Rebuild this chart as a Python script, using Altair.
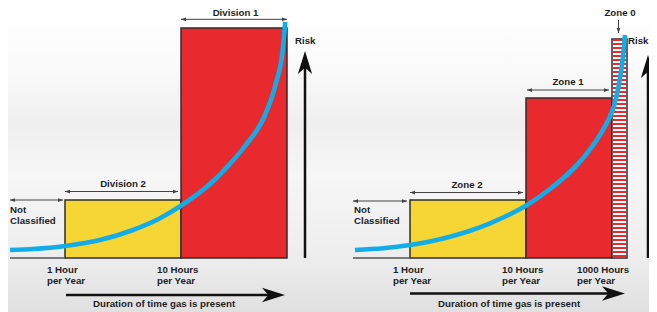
import altair as alt
import pandas as pd

W, H = 641, 304
X_DOMAIN = [8, 649]      # horizontal diagram units
Y_DOMAIN = [-54, 250]    # risk level above the baseline

# ---- classified areas (bars) ----
area_names = ["Division 2", "Division 1", "Zone 2", "Zone 1", "Zone 0"]
area_start = [65, 181, 410, 526, 612]
area_end = [181, 287, 526, 612, 627]
area_risk = [58, 230, 58, 160, 219]
area_fill = ["yellow", "red", "yellow", "red", "striped"]

# ---- not classified baseline segments ----
nc_start = [10, 353]
nc_end = [65, 410]

# ---- blue risk curves ----
curve_left_x = [10, 33, 65, 100, 133, 160, 182, 210, 228, 245, 265, 276, 282.7, 284.3, 285.3]
curve_left_h = [8, 9, 12, 18, 28, 39.7, 53, 74, 92, 112, 143, 175, 208, 225, 236]
curve_right_x = [355, 383, 410, 450, 490, 527, 550, 570, 584, 596, 606.7, 614, 618.3, 623.3, 625]
curve_right_h = [8, 9.7, 13, 21.3, 34.7, 53, 69, 86, 101, 117, 135, 152, 170, 204, 223]

# ---- extent arrows (double headed) ----
span_start = [10, 65, 181, 353, 410, 527]
span_end = [63, 178, 287, 407, 523, 609]
span_level = [58, 66.5, 238.7, 57, 65.5, 168]

span_labels = ["Division 2", "Division 1", "Zone 2", "Zone 1", "Zone 0"]
span_label_x = [123, 235.5, 467, 568, 620]
span_label_h = [71, 241.8, 70, 173, 241.8]

# Zone 0 pointer
ptr_x = [618.5]
ptr_from = [238]
ptr_to = [225]

# ---- other labels ----
nc_label = ["Not\nClassified", "Not\nClassified"]
nc_label_x = [10, 354]
nc_label_h = [45, 45]

tick_labels = ["1 Hour\nper Year", "10 Hours\nper Year",
               "1 Hour\nper Year", "10 Hours\nper Year", "1000 Hours\nper Year"]
tick_x = [47, 157, 393, 502, 577]
tick_h = [-14.7] * 5

risk_x = [305, 648]
risk_tip = [207, 203]
risk_label_x = [295, 628]
risk_label_h = [214, 214]

dur_start = [66, 410]
dur_end = [285, 625]
dur_h = [-37, -35.5]
dur_label = ["Duration of time gas is present"] * 2
dur_label_x = [93, 438]
dur_label_h = [-49, -49]

FONT = "Liberation Sans"
TXT = "#1e1e1e"
xs = alt.Scale(domain=X_DOMAIN, nice=False, zero=False)
ys = alt.Scale(domain=Y_DOMAIN, nice=False, zero=False)


def X(f):
    return alt.X(f, type="quantitative", scale=xs, axis=None)


def Y(f):
    return alt.Y(f, type="quantitative", scale=ys, axis=None)


BIG_HEAD = "M0,0 L0.62,2 L0,1.45 L-0.62,2 Z"
SMALL_HEAD = "M0,0 L0.75,2 L-0.75,2 Z"

# background haze
bg = alt.Chart(pd.DataFrame({"a": [0]})).mark_rect(
    color=alt.LinearGradient(
        gradient="linear", x1=0, x2=0, y1=0, y2=1,
        stops=[alt.GradientStop(color="#ffffff", offset=0),
               alt.GradientStop(color="#fafafa", offset=0.2),
               alt.GradientStop(color="#efefef", offset=0.38),
               alt.GradientStop(color="#f6f6f6", offset=0.55),
               alt.GradientStop(color="#eeeeee", offset=0.8),
               alt.GradientStop(color="#e0e0e0", offset=1)])
).encode(x=alt.value(0), x2=alt.value(W), y=alt.value(0), y2=alt.value(H))

areas = pd.DataFrame({"name": area_names, "x0": area_start, "x1": area_end,
                      "risk": area_risk, "fill": area_fill, "base": 0})
bars = alt.Chart(areas).mark_rect(stroke="#2e2e2e", strokeWidth=1.5).encode(
    x=X("x0"), x2="x1", y=Y("base"), y2="risk",
    fill=alt.Fill("fill:N", scale=alt.Scale(domain=["yellow", "red", "striped"],
                                            range=["#F6D634", "#E8292E", "#FFFFFF"]),
                  legend=None))

stripe_df = areas[areas["fill"] == "striped"].copy()
stripe_df["xc"] = (stripe_df["x0"] + stripe_df["x1"]) / 2
stripe_df["lo"] = stripe_df["base"] + 1
stripe_df["hi"] = stripe_df["risk"] - 1
stripes = alt.Chart(stripe_df).mark_rule(
    color="#E8292E", strokeWidth=13.5, strokeDash=[2, 2], strokeCap="butt").encode(
    x=X("xc"), y=Y("lo"), y2="hi")

nc = pd.DataFrame({"x0": nc_start, "x1": nc_end, "y": 0})
nc_rules = alt.Chart(nc).mark_rule(color="#555555", strokeWidth=1.5).encode(
    x=X("x0"), x2="x1", y=Y("y"))

curves = pd.concat([
    pd.DataFrame({"x": curve_left_x, "h": curve_left_h, "panel": "left"}),
    pd.DataFrame({"x": curve_right_x, "h": curve_right_h, "panel": "right"})])
curve = alt.Chart(curves).mark_line(
    color="#12ADE8", strokeWidth=4.6, interpolate="monotone", strokeCap="butt").encode(
    x=X("x"), y=Y("h"), detail="panel:N", order="x:Q")

spans = pd.DataFrame({"x0": span_start, "x1": span_end, "y": span_level})
span_rules = alt.Chart(spans).mark_rule(color="#444444", strokeWidth=1).encode(
    x=X("x0"), x2="x1", y=Y("y"))
heads = pd.concat([
    pd.DataFrame({"x": span_start, "y": span_level, "ang": 270}),
    pd.DataFrame({"x": span_end, "y": span_level, "ang": 90}),
    pd.DataFrame({"x": ptr_x, "y": ptr_to, "ang": 180})])
span_heads = alt.Chart(heads).mark_point(
    shape=SMALL_HEAD, size=25, filled=True, opacity=1, color="#444444", strokeWidth=0).encode(
    x=X("x"), y=Y("y"), angle=alt.Angle("ang:Q", scale=None))
ptr = alt.Chart(pd.DataFrame({"x": ptr_x, "y0": ptr_from, "y1": ptr_to})).mark_rule(
    color="#444444", strokeWidth=1).encode(x=X("x"), y=Y("y0"), y2="y1")

risk = pd.DataFrame({"x": risk_x, "base": 0, "tip": risk_tip})
risk["shaft"] = risk["tip"] - 12
risk_rules = alt.Chart(risk).mark_rule(color="#111111", strokeWidth=2.5).encode(
    x=X("x"), y=Y("base"), y2="shaft")
dur = pd.DataFrame({"x0": dur_start, "x1": dur_end, "y": dur_h})
dur["shaft"] = dur["x1"] - 12
dur_rules = alt.Chart(dur).mark_rule(color="#111111", strokeWidth=2.5).encode(
    x=X("x0"), x2="shaft", y=Y("y"))
big = pd.concat([
    pd.DataFrame({"x": risk_x, "y": risk_tip, "ang": 0}),
    pd.DataFrame({"x": dur_end, "y": dur_h, "ang": 90})])
big_heads = alt.Chart(big).mark_point(
    shape=BIG_HEAD, size=529, filled=True, opacity=1, color="#111111", strokeWidth=0).encode(
    x=X("x"), y=Y("y"), angle=alt.Angle("ang:Q", scale=None))


def text_layer(labels, xv, hv, align):
    df = pd.DataFrame({"t": labels, "x": xv, "y": hv})
    return alt.Chart(df).mark_text(
        font=FONT, fontWeight="bold", fontSize=9.7, color=TXT, align=align,
        baseline="alphabetic", lineBreak="\n", lineHeight=11).encode(
        x=X("x"), y=Y("y"), text="t:N")


texts = [
    text_layer(span_labels, span_label_x, span_label_h, "center"),
    text_layer(nc_label, nc_label_x, nc_label_h, "left"),
    text_layer(tick_labels, tick_x, tick_h, "left"),
    text_layer(["Risk", "Risk"], risk_label_x, risk_label_h, "left"),
    text_layer(dur_label, dur_label_x, dur_label_h, "left"),
]

chart = alt.layer(
    bg, bars, stripes, nc_rules, curve, span_rules, ptr, span_heads,
    risk_rules, dur_rules, big_heads, *texts
).properties(
    width=W, height=H, padding=0,
    autosize=alt.AutoSizeParams(type="none")
).configure_view(stroke=None).configure(background="white")

chart.save("out.html", embed_options={"renderer": "svg", "actions": False})
